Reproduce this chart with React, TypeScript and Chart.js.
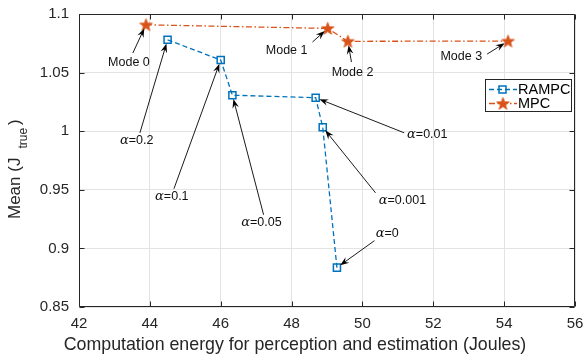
import React, { useEffect, useRef } from "react";
import { Chart, registerables } from "chart.js";

Chart.register(...registerables);

// ---------- data ----------
const xTicks = [42, 44, 46, 48, 50, 52, 54, 56];
const yTicks = [0.85, 0.9, 0.95, 1, 1.05, 1.1];

const rampcEnergy = [44.5, 46.0, 46.33, 48.68, 48.88, 49.28];
const rampcMean = [1.078, 1.0607, 1.0307, 1.0286, 1.0034, 0.8836];
const rampcAlpha = ["0.2", "0.1", "0.05", "0.01", "0.001", "0"];

const mpcEnergy = [43.89, 49.02, 49.59, 54.11];
const mpcMean = [1.0908, 1.0877, 1.0767, 1.0769];
const mpcModes = ["Mode 0", "Mode 1", "Mode 2", "Mode 3"];

// annotation label centres and arrow tails (data units)
const mpcLabelX = [43.41, 47.86, 49.72, 52.79];
const mpcLabelY = [1.059, 1.0684, 1.0497, 1.0641];
const mpcTailX = [43.52, 48.59, 49.69, 53.52];
const mpcTailY = [1.0667, 1.0761, 1.059, 1.0658];

const rampcLabelX = [43.63, 44.62, 47.15, 51.83, 51.13, 50.7];
const rampcLabelY = [0.9917, 0.944, 0.9219, 0.9969, 0.9406, 0.9125];
const rampcTailX = [43.72, 44.68, 47.21, 51.18, 50.37, 50.34];
const rampcTailY = [0.9986, 0.9509, 0.9287, 0.9986, 0.9474, 0.9066];

// ---------- styles ----------
const BLUE = "#0072BD";
const ORANGE = "#D95319";
const GRID = "#e3e3e3";
const AXIS = "#262626";
const FONT = "'Liberation Sans', Arial, sans-serif";
const RAMPC_DASH = [5, 3];
const MPC_DASH = [6, 2.5, 1.5, 2.5];

function makeStar(r: number): HTMLCanvasElement {
  const c = document.createElement("canvas");
  const s = Math.ceil(r * 2 + 4);
  c.width = s;
  c.height = s;
  const ctx = c.getContext("2d")!;
  ctx.translate(s / 2, s / 2 + 0.5);
  ctx.beginPath();
  for (let i = 0; i < 10; i++) {
    const rr = i % 2 === 0 ? r : r * 0.4;
    const a = -Math.PI / 2 + (i * Math.PI) / 5;
    ctx.lineTo(rr * Math.cos(a), rr * Math.sin(a));
  }
  ctx.closePath();
  ctx.fillStyle = ORANGE;
  ctx.fill();
  ctx.strokeStyle = ORANGE;
  ctx.lineWidth = 1;
  ctx.stroke();
  return c;
}

function drawArrow(ctx: CanvasRenderingContext2D, x1: number, y1: number, px: number, py: number) {
  const dx = px - x1;
  const dy = py - y1;
  const len = Math.hypot(dx, dy);
  const ux = dx / len;
  const uy = dy / len;
  const gap = 4;
  const tx = px - ux * gap;
  const ty = py - uy * gap;
  const hl = 9;
  const hw = 3.3;
  const nx = -uy;
  const ny = ux;
  ctx.save();
  ctx.strokeStyle = "#000";
  ctx.fillStyle = "#000";
  ctx.lineWidth = 0.9;
  ctx.setLineDash([]);
  ctx.beginPath();
  ctx.moveTo(x1, y1);
  ctx.lineTo(tx - ux * hl * 0.6, ty - uy * hl * 0.6);
  ctx.stroke();
  ctx.beginPath();
  ctx.moveTo(tx, ty);
  ctx.lineTo(tx - ux * hl + nx * hw, ty - uy * hl + ny * hw);
  ctx.lineTo(tx - ux * hl * 0.65, ty - uy * hl * 0.65);
  ctx.lineTo(tx - ux * hl - nx * hw, ty - uy * hl - ny * hw);
  ctx.closePath();
  ctx.fill();
  ctx.restore();
}

export default function App() {
  const ref = useRef<HTMLCanvasElement | null>(null);

  useEffect(() => {
    document.body.style.margin = "0";
    const canvas = ref.current!;
    const star = makeStar(6.5);

    const overlay = {
      id: "overlay",
      afterDraw(chart: any) {
        const ctx: CanvasRenderingContext2D = chart.ctx;
        const xs = chart.scales.x;
        const ys = chart.scales.y;
        const a = chart.chartArea;
        const L = Math.round(a.left) + 0.5;
        const R = Math.round(a.right) - 0.5;
        const T = Math.round(a.top) + 0.5;
        const B = Math.round(a.bottom) - 0.5;

        // annotations
        ctx.save();
        ctx.textAlign = "left";
        ctx.textBaseline = "middle";
        mpcModes.forEach((txt, i) => {
          const cx = xs.getPixelForValue(mpcLabelX[i]);
          const cy = ys.getPixelForValue(mpcLabelY[i]);
          ctx.font = `12.5px ${FONT}`;
          ctx.fillStyle = "#111";
          const w = ctx.measureText(txt).width;
          ctx.fillText(txt, cx - w / 2, cy);
          drawArrow(
            ctx,
            xs.getPixelForValue(mpcTailX[i]),
            ys.getPixelForValue(mpcTailY[i]),
            xs.getPixelForValue(mpcEnergy[i]),
            ys.getPixelForValue(mpcMean[i])
          );
        });
        rampcAlpha.forEach((val, i) => {
          const cx = xs.getPixelForValue(rampcLabelX[i]);
          const cy = ys.getPixelForValue(rampcLabelY[i]);
          ctx.font = `italic 13px 'DejaVu Serif', serif`;
          const wa = ctx.measureText("α").width;
          ctx.font = `12.5px ${FONT}`;
          const rest = "=" + val;
          const wr = ctx.measureText(rest).width;
          const x0 = cx - (wa + wr) / 2;
          ctx.fillStyle = "#111";
          ctx.font = `italic 13px 'DejaVu Serif', serif`;
          ctx.fillText("α", x0, cy);
          ctx.font = `12.5px ${FONT}`;
          ctx.fillText(rest, x0 + wa, cy);
          drawArrow(
            ctx,
            xs.getPixelForValue(rampcTailX[i]),
            ys.getPixelForValue(rampcTailY[i]),
            xs.getPixelForValue(rampcEnergy[i]),
            ys.getPixelForValue(rampcMean[i])
          );
        });
        ctx.restore();

        // frame + inward ticks
        ctx.save();
        ctx.strokeStyle = AXIS;
        ctx.lineWidth = 1;
        ctx.setLineDash([]);
        ctx.beginPath();
        ctx.rect(L, T, R - L, B - T);
        const tl = 5;
        xTicks.forEach((v) => {
          const x = Math.round(xs.getPixelForValue(v)) + 0.5;
          ctx.moveTo(x, B);
          ctx.lineTo(x, B - tl);
          ctx.moveTo(x, T);
          ctx.lineTo(x, T + tl);
        });
        yTicks.forEach((v) => {
          const y = Math.round(ys.getPixelForValue(v)) + 0.5;
          ctx.moveTo(L, y);
          ctx.lineTo(L + tl, y);
          ctx.moveTo(R, y);
          ctx.lineTo(R - tl, y);
        });
        ctx.stroke();
        ctx.restore();

        // axis titles
        ctx.save();
        ctx.fillStyle = AXIS;
        ctx.textBaseline = "alphabetic";
        ctx.textAlign = "center";
        ctx.font = `17.8px ${FONT}`;
        ctx.fillText("Computation energy for perception and estimation (Joules)", 295, 350);
        ctx.restore();

        ctx.save();
        ctx.fillStyle = AXIS;
        ctx.translate(20, 219);
        ctx.rotate(-Math.PI / 2);
        ctx.textAlign = "left";
        ctx.textBaseline = "alphabetic";
        ctx.font = `17px ${FONT}`;
        const main = "Mean (J";
        const w1 = ctx.measureText(main).width;
        ctx.fillText(main, 0, 0);
        ctx.font = `12px ${FONT}`;
        const wt = ctx.measureText("true").width;
        ctx.fillText("true", w1 + 9, 6.5);
        ctx.font = `17px ${FONT}`;
        ctx.fillText(")", w1 + 9 + wt + 3, 0);
        ctx.restore();

        // legend
        ctx.save();
        const lx = 485.5, ly = 79.5, lw = 86, lh = 32;
        ctx.fillStyle = "#fff";
        ctx.fillRect(lx, ly, lw, lh);
        ctx.strokeStyle = AXIS;
        ctx.lineWidth = 1;
        ctx.strokeRect(lx, ly, lw, lh);
        const rows = [
          { label: "RAMPC", y: 89.5, color: BLUE, dash: RAMPC_DASH, kind: "rect" },
          { label: "MPC", y: 103.5, color: ORANGE, dash: MPC_DASH, kind: "star" },
        ];
        rows.forEach((r) => {
          ctx.strokeStyle = r.color;
          ctx.lineWidth = 1.3;
          ctx.setLineDash(r.dash);
          ctx.beginPath();
          ctx.moveTo(489, r.y);
          ctx.lineTo(517, r.y);
          ctx.stroke();
          ctx.setLineDash([]);
          if (r.kind === "rect") {
            ctx.fillStyle = "#fff";
            ctx.lineWidth = 1.5;
            ctx.strokeRect(499, r.y - 3.5, 7, 7);
          } else {
            ctx.drawImage(star, 503 - star.width / 2, r.y - star.height / 2);
          }
          ctx.fillStyle = "#000";
          ctx.font = `14.5px ${FONT}`;
          ctx.textBaseline = "middle";
          ctx.textAlign = "left";
          ctx.fillText(r.label, 518, r.y + 0.5);
        });
        ctx.restore();
      },
    };

    const chart = new Chart(canvas, {
      type: "line",
      data: {
        datasets: [
          {
            label: "RAMPC",
            data: rampcEnergy.map((x, i) => ({ x, y: rampcMean[i] })),
            borderColor: BLUE,
            borderWidth: 1.3,
            borderDash: RAMPC_DASH,
            pointStyle: "rect",
            pointRadius: 5,
            pointBorderWidth: 1.5,
            pointBorderColor: BLUE,
            pointBackgroundColor: "rgba(0,0,0,0)",
            tension: 0,
            fill: false,
          },
          {
            label: "MPC",
            data: mpcEnergy.map((x, i) => ({ x, y: mpcMean[i] })),
            borderColor: ORANGE,
            borderWidth: 1.3,
            borderDash: MPC_DASH,
            pointStyle: star as any,
            pointRadius: 7,
            tension: 0,
            fill: false,
          },
        ],
      },
      options: {
        animation: false,
        responsive: false,
        devicePixelRatio: 1,
        layout: { padding: { top: 14, right: 10, left: 0, bottom: 0 } },
        plugins: { legend: { display: false }, tooltip: { enabled: false } },
        scales: {
          x: {
            type: "linear",
            min: 42,
            max: 56,
            afterBuildTicks: (s: any) => {
              s.ticks = xTicks.map((v) => ({ value: v }));
            },
            afterFit: (s: any) => {
              s.height = 49;
              s.paddingLeft = 0;
              s.paddingRight = 0;
            },
            grid: { color: GRID, drawTicks: false },
            border: { display: false },
            ticks: {
              autoSkip: false,
              maxRotation: 0,
              padding: 8,
              color: AXIS,
              font: { family: FONT, size: 15 },
              callback: (v: any) => String(v),
            },
          },
          y: {
            type: "linear",
            min: 0.85,
            max: 1.1,
            afterBuildTicks: (s: any) => {
              s.ticks = yTicks.map((v) => ({ value: v }));
            },
            afterFit: (s: any) => {
              s.width = 79;
              s.paddingTop = 0;
              s.paddingBottom = 0;
            },
            grid: { color: GRID, drawTicks: false },
            border: { display: false },
            ticks: {
              autoSkip: false,
              padding: 10,
              color: AXIS,
              font: { family: FONT, size: 15 },
              callback: (v: any) => String(Number(Number(v).toFixed(2))),
            },
          },
        },
      },
      plugins: [overlay],
    });
    return () => chart.destroy();
  }, []);

  return (
    <div style={{ width: 585, height: 356 }}>
      <canvas ref={ref} width={585} height={356} style={{ display: "block" }} />
    </div>
  );
}
